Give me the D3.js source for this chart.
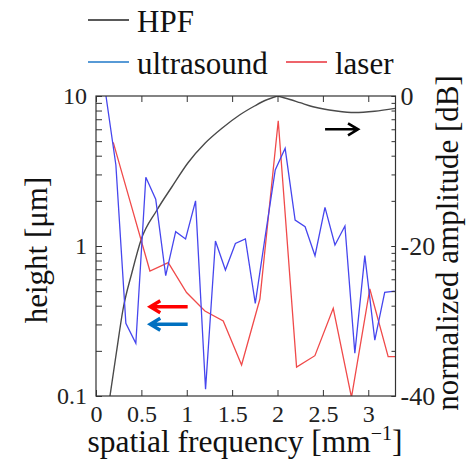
<!DOCTYPE html>
<html>
<head>
<meta charset="utf-8">
<script src="https://cdn.jsdelivr.net/npm/d3@7"></script>
<style>
  html, body { margin: 0; padding: 0; background: #fff; }
  svg { display: block; }
  text { font-family: "Liberation Serif", "Times New Roman", serif; fill: #111; }
</style>
</head>
<body>
<svg id="chart" width="470" height="460"></svg>
<script>
// ---------------- data ----------------
const xTicks = [0, 0.5, 1, 1.5, 2, 2.5, 3];
const xTickLabels = ["0", "0.5", "1", "1.5", "2", "2.5", "3"];
const yLeftTicks = [0.1, 0.2, 0.3, 0.4, 0.5, 0.6, 0.7, 0.8, 0.9, 1, 2, 3, 4, 5, 6, 7, 8, 9, 10];
const yLeftLabelValues = [0.1, 1, 10];
const yLeftTickLabels = ["0.1", "1", "10"];
const yRightTicks = [-40, -20, 0];
const yRightTickLabels = ["-40", "-20", "0"];

// HPF (normalized amplitude, dB)
const hpfFreq = [0.154, 0.226, 0.297, 0.397, 0.496, 0.667, 0.837, 1.014, 1.201, 1.388, 1.586, 1.752, 1.862, 2.0,
                 2.137, 2.248, 2.391, 2.523, 2.63, 2.85, 3.07, 3.294];
const hpfDb   = [-40, -34.1, -28.5, -23.5, -19.2, -15.3, -12.1, -8.9, -6.3, -4.3, -2.5, -1.3, -0.6, 0,
                 -0.47, -0.89, -1.43, -1.77, -1.96, -2.2, -2.03, -1.65];

// ultrasound (height, um)
const usFreq = [0.11, 0.219, 0.329, 0.439, 0.549, 0.658, 0.768, 0.878, 0.987, 1.097, 1.207, 1.316, 1.426, 1.536, 1.646,
                1.755, 1.865, 1.975, 2.084, 2.194, 2.304, 2.413, 2.523, 2.633, 2.743, 2.852, 2.962, 3.072, 3.181, 3.291];
const usHeight = [10, 3.47, 0.305, 0.2245, 2.87, 2.05, 0.634, 1.245, 1.113, 2.0, 0.111, 1.08, 0.692, 1.04, 1.113,
                  0.415, 1.166, 3.21, 4.48, 1.49, 1.345, 0.862, 1.81, 1.015, 1.36, 0.193, 0.862, 0.236, 0.491, 0.501];

// laser (height, um)
const laserFreq = [0.19, 0.392, 0.594, 0.796, 0.998, 1.2, 1.402, 1.604, 1.806, 2.008, 2.21, 2.412, 2.614, 2.815, 3.017, 3.219, 3.421];
const laserHeight = [4.91, 1.83, 0.681, 0.774, 0.49, 0.369, 0.316, 0.161, 0.443, 6.84, 0.156, 0.1857, 0.384, 0.098, 0.517, 0.183, 0.183];

// annotation arrows (data coordinates)
const arrowRed  = { x0: 1.01, x1: 0.598, y: 0.394, axis: "left" };
const arrowBlue = { x0: 1.01, x1: 0.598, y: 0.301, axis: "left" };
const arrowBlack = { x0: 2.524, x1: 2.887, y: -4.44, axis: "right" };

// ---------------- layout ----------------
const FONT = "'Liberation Serif', 'Times New Roman', serif";
const L = 96, R = 395.5, T = 96, B = 396;
const svg = d3.select("#chart");

const x = d3.scaleLinear().domain([0, 3.3]).range([L, R]);
const yL = d3.scaleLog().domain([0.1, 10]).range([B, T]);
const yR = d3.scaleLinear().domain([-40, 0]).range([B, T]);

svg.append("defs").append("clipPath").attr("id", "clip")
  .append("rect").attr("x", L).attr("y", T).attr("width", R - L).attr("height", B - T);

const plot = svg.append("g").attr("clip-path", "url(#clip)");

// HPF curve, split at the peak (cusp)
const peakIdx = hpfDb.indexOf(0);
const hpfPts = hpfFreq.map((f, i) => [f, hpfDb[i]]);
const hpfLine = d3.line().x(d => x(d[0])).y(d => yR(d[1])).curve(d3.curveMonotoneX);
[hpfPts.slice(0, peakIdx + 1), hpfPts.slice(peakIdx)].forEach(seg => {
  plot.append("path").attr("d", hpfLine(seg))
    .attr("fill", "none").attr("stroke", "#4a4a4a").attr("stroke-width", 1.4);
});

const hLine = d3.line().x(d => x(d[0])).y(d => yL(d[1]));
plot.append("path").attr("d", hLine(laserFreq.map((f, i) => [f, laserHeight[i]])))
  .attr("fill", "none").attr("stroke", "#f04a4a").attr("stroke-width", 1.3);
plot.append("path").attr("d", hLine(usFreq.map((f, i) => [f, usHeight[i]])))
  .attr("fill", "none").attr("stroke", "#4646ee").attr("stroke-width", 1.3);

// ---------------- axes ----------------
const tickStyle = g => {
  g.select(".domain").remove();
  g.attr("font-family", null);
  g.selectAll(".tick line").attr("stroke", "#333").attr("stroke-width", 1);
};
const labelStyle = size => g => g.selectAll("text")
  .style("font-family", FONT).style("font-size", size + "px").style("fill", "#222");

svg.append("g").attr("transform", `translate(0,${B})`)
  .call(d3.axisBottom(x).tickValues(xTicks).tickFormat((d, i) => xTickLabels[i])
        .tickSizeInner(-6).tickSizeOuter(0).tickPadding(9))
  .call(tickStyle).call(labelStyle(24));

svg.append("g").attr("transform", `translate(0,${T})`)
  .call(d3.axisTop(x).tickValues(xTicks).tickFormat("").tickSizeInner(-6).tickSizeOuter(0))
  .call(tickStyle);

svg.append("g").attr("transform", `translate(${L},0)`)
  .call(d3.axisLeft(yL).tickValues(yLeftTicks)
        .tickFormat(d => { const k = yLeftLabelValues.findIndex(v => Math.abs(v - d) < 1e-9); return k >= 0 ? yLeftTickLabels[k] : ""; })
        .tickSizeInner(-6).tickSizeOuter(0).tickPadding(9))
  .call(tickStyle).call(labelStyle(24));

svg.append("g").attr("transform", `translate(${R},0)`)
  .call(d3.axisRight(yL).tickValues(yLeftTicks).tickFormat("").tickSizeInner(-4).tickSizeOuter(0))
  .call(tickStyle);

svg.append("g").attr("transform", `translate(${R},0)`)
  .call(d3.axisRight(yR).tickValues(yRightTicks).tickFormat((d, i) => yRightTickLabels[i])
        .tickSizeInner(-4).tickSizeOuter(0).tickPadding(5))
  .call(tickStyle).call(labelStyle(26));

// frame
svg.append("rect").attr("x", L).attr("y", T).attr("width", R - L).attr("height", B - T)
  .attr("fill", "none").attr("stroke", "#333").attr("stroke-width", 1.2);

// ---------------- arrows ----------------
function arrow(a, color, width) {
  const ys = a.axis === "left" ? yL : yR;
  const xa = x(a.x0), xb = x(a.x1), yy = ys(a.y);
  const dir = Math.sign(xb - xa);
  const hl = 10, hw = 6;
  svg.append("path")
    .attr("d", `M${xa},${yy}L${xb - dir * 1},${yy}M${xb - dir * hl},${yy - hw}L${xb},${yy}L${xb - dir * hl},${yy + hw}`)
    .attr("fill", "none").attr("stroke", color).attr("stroke-width", width)
    .attr("stroke-linejoin", "miter").attr("stroke-linecap", "butt");
}
arrow(arrowRed, "#ff0000", 3.4);
arrow(arrowBlue, "#0070c0", 3.4);
arrow(arrowBlack, "#000", 2.6);

// ---------------- legend ----------------
const legend = svg.append("g");
const legendItems = [
  { label: "HPF", color: "#222", lx: 88, ly: 20, tx: 137, ty: 32 },
  { label: "ultrasound", color: "#1f78c8", lx: 88, ly: 62, tx: 137, ty: 74 },
  { label: "laser", color: "#e8303a", lx: 286, ly: 62, tx: 335, ty: 74 }
];
legendItems.forEach(it => {
  legend.append("line").attr("x1", it.lx).attr("x2", it.lx + 41).attr("y1", it.ly).attr("y2", it.ly)
    .attr("stroke", it.color).attr("stroke-width", 1.5);
  legend.append("text").attr("x", it.tx).attr("y", it.ty)
    .style("font-family", FONT).style("font-size", "31px").text(it.label);
});

// ---------------- axis titles ----------------
const xt = svg.append("text").attr("x", 245).attr("y", 452).attr("text-anchor", "middle")
  .style("font-family", FONT).style("font-size", "31.5px");
xt.append("tspan").text("spatial frequency [mm");
xt.append("tspan").style("font-size", "20px").attr("dy", -12).text("\u22121");
xt.append("tspan").attr("dy", 12).text("]");

svg.append("text").attr("transform", "translate(47,250) rotate(-90)")
  .attr("text-anchor", "middle").style("font-family", FONT).style("font-size", "31px").text("height [\u03bcm]");

svg.append("text").attr("transform", "translate(458,243) rotate(-90)")
  .attr("text-anchor", "middle").style("font-family", FONT).style("font-size", "31px").text("normalized amplitude [dB]");
</script>
</body>
</html>
